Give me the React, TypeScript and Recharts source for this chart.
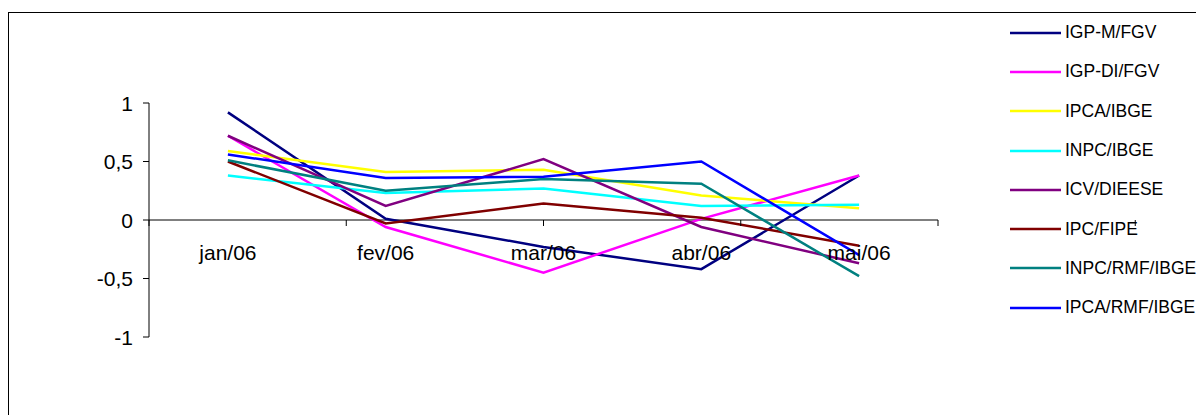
import { Legend, Line, LineChart, ReferenceLine, XAxis, YAxis } from "recharts";

const months = ["jan/06", "fev/06", "mar/06", "abr/06", "mai/06"];

const igpM = [0.92, 0.01, -0.23, -0.42, 0.38];
const igpDi = [0.72, -0.06, -0.45, 0.01, 0.38];
const ipca = [0.59, 0.41, 0.43, 0.21, 0.1];
const inpc = [0.38, 0.23, 0.27, 0.12, 0.13];
const icv = [0.72, 0.12, 0.52, -0.06, -0.37];
const ipcFipe = [0.5, -0.03, 0.14, 0.02, -0.22];
const inpcRmf = [0.51, 0.25, 0.35, 0.31, -0.48];
const ipcaRmf = [0.56, 0.36, 0.37, 0.5, -0.3];

const yTicks = [-1, -0.5, 0, 0.5, 1];
const boundaryTicks = [0, 1, 2, 3, 4, 5];

const series = [
  { key: "igpM", name: "IGP-M/FGV", color: "#000080", values: igpM },
  { key: "igpDi", name: "IGP-DI/FGV", color: "#ff00ff", values: igpDi },
  { key: "ipca", name: "IPCA/IBGE", color: "#ffff00", values: ipca },
  { key: "inpc", name: "INPC/IBGE", color: "#00ffff", values: inpc },
  { key: "icv", name: "ICV/DIEESE", color: "#800080", values: icv },
  { key: "ipcFipe", name: "IPC/FIPE", color: "#800000", values: ipcFipe },
  { key: "inpcRmf", name: "INPC/RMF/IBGE", color: "#008080", values: inpcRmf },
  { key: "ipcaRmf", name: "IPCA/RMF/IBGE", color: "#0000ff", values: ipcaRmf }
];

const data = months.map((month, i) => {
  const row: Record<string, string | number> = { month };
  series.forEach((s) => {
    row[s.key] = s.values[i];
  });
  return row;
});

const W = 1196;
const H = 415;
const margin = { top: 102, right: 258, bottom: 77, left: 89 };
const AXIS_H = 1;
const PLOT_H = H - margin.top - margin.bottom - 2 * AXIS_H;
const FONT = "'Liberation Sans', Arial, sans-serif";
const TICK_FONT = 21;

// category labels sit under the zero line, not at the bottom of the plot
function MonthTick(props: any) {
  const { x, y, payload } = props;
  const zeroY = y - PLOT_H / 2;
  return (
    <text x={x} y={zeroY + 40} textAnchor="middle" fontSize={TICK_FONT} fill="#000" fontFamily={FONT}>
      {payload.value}
    </text>
  );
}

// excel-style tick marks between categories, on the zero line
function BoundaryTick(props: any) {
  const { x, y } = props;
  const zeroY = y + PLOT_H / 2;
  return <line x1={x} x2={x} y1={zeroY} y2={zeroY + 6} stroke="#000" strokeWidth={1} />;
}

function ValueTick(props: any) {
  const { x, y, payload } = props;
  return (
    <text x={x} y={y} dy="0.36em" textAnchor="end" fontSize={TICK_FONT} fill="#000" fontFamily={FONT}>
      {String(payload.value).replace(".", ",")}
    </text>
  );
}

function LegendBox() {
  return (
    <div style={{ fontFamily: FONT, fontSize: 17.5, color: "#000" }}>
      {series.map((s) => (
        <div key={s.key} style={{ height: 39.3, display: "flex", alignItems: "center", whiteSpace: "nowrap" }}>
          <svg width={55} height={4} style={{ flex: "none" }}>
            <line x1={0} x2={51} y1={2} y2={2} stroke={s.color} strokeWidth={2.5} />
          </svg>
          <span>{s.name}</span>
        </div>
      ))}
    </div>
  );
}

export default function App() {
  return (
    <div
      style={{
        position: "fixed",
        left: 0,
        top: 0,
        width: W,
        height: H,
        overflow: "hidden",
        background: "#fff"
      }}
    >
      <div
        style={{
          position: "absolute",
          left: 8,
          top: 12,
          width: 1400,
          height: 600,
          border: "1px solid #000"
        }}
      />
      <div style={{ position: "absolute", left: 0, top: 0 }}>
        <LineChart width={W} height={H} data={data} margin={margin}>
          <XAxis
            xAxisId="cat"
            dataKey="month"
            type="category"
            scale="band"
            height={AXIS_H}
            axisLine={false}
            tickLine={false}
            tickSize={0}
            tickMargin={0}
            interval={0}
            tick={<MonthTick />}
          />
          <XAxis
            xAxisId="bound"
            orientation="top"
            type="number"
            domain={[0, 5]}
            ticks={boundaryTicks}
            allowDataOverflow
            height={AXIS_H}
            axisLine={false}
            tickLine={false}
            tickSize={0}
            tickMargin={0}
            interval={0}
            tick={<BoundaryTick />}
          />
          <YAxis
            width={60}
            domain={[-1, 1]}
            ticks={yTicks}
            allowDataOverflow
            interval={0}
            axisLine={{ stroke: "#000" }}
            tickLine={{ stroke: "#000" }}
            tickSize={6}
            tickMargin={10}
            tick={<ValueTick />}
          />
          <ReferenceLine xAxisId="cat" y={0} stroke="#000" strokeWidth={1} />
          {series.map((s) => (
            <Line
              key={s.key}
              xAxisId="cat"
              type="linear"
              dataKey={s.key}
              name={s.name}
              stroke={s.color}
              strokeWidth={2.5}
              dot={false}
              activeDot={false}
              isAnimationActive={false}
            />
          ))}
          <Legend
            layout="vertical"
            align="center"
            verticalAlign="middle"
            wrapperStyle={{ left: 1010, top: 13, width: 190 }}
            content={<LegendBox />}
          />
        </LineChart>
      </div>
    </div>
  );
}
